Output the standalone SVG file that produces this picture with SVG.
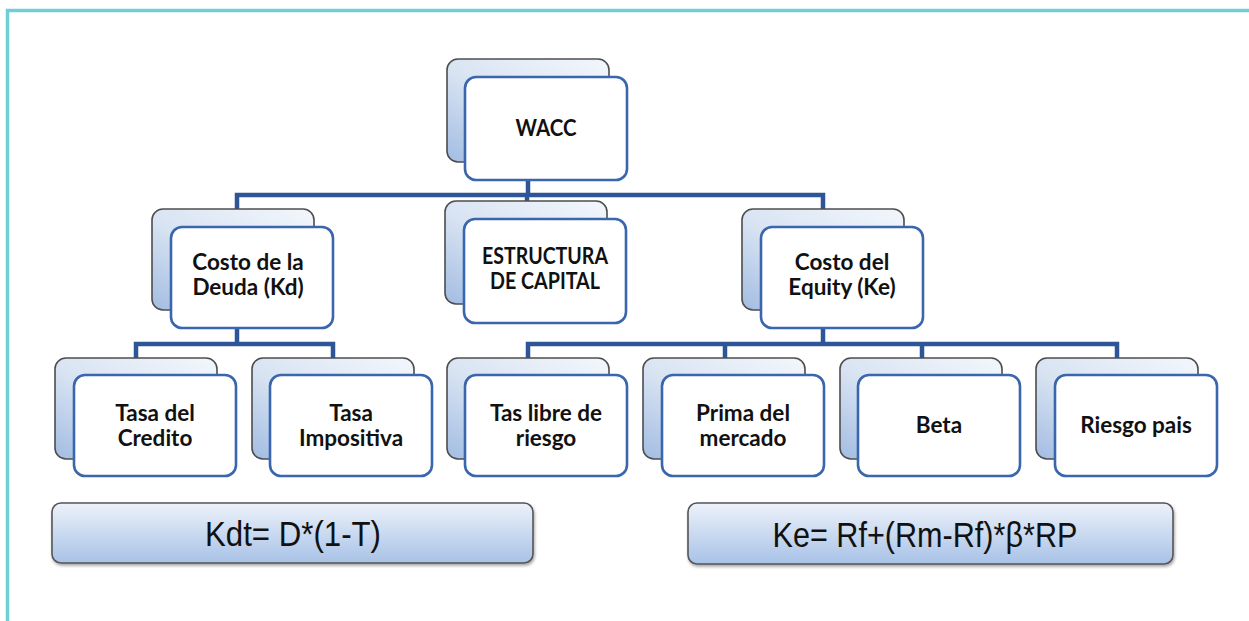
<svg xmlns="http://www.w3.org/2000/svg" width="1249" height="621" viewBox="0 0 1249 621">
  <defs>
    <linearGradient id="backGrad" x1="1" y1="0" x2="0" y2="1">
      <stop offset="0" stop-color="#f3f7fc"/>
      <stop offset="0.55" stop-color="#d8e3f2"/>
      <stop offset="1" stop-color="#a2bce2"/>
    </linearGradient>
    <linearGradient id="formGrad" x1="0" y1="0" x2="0" y2="1">
      <stop offset="0" stop-color="#edf2fa"/>
      <stop offset="1" stop-color="#a8c2e7"/>
    </linearGradient>
    <filter id="shadow" x="-5%" y="-10%" width="110%" height="130%">
      <feDropShadow dx="1" dy="2" stdDeviation="1.5" flood-color="#000" flood-opacity="0.35"/>
    </filter>
  </defs>
  <style>
    .back { fill: url(#backGrad); stroke: #4d4d4d; stroke-width: 1.6; }
    .front { fill: #ffffff; stroke: #3a66ae; stroke-width: 2.6; }
    .lbl { font-family: Lato, "Open Sans", "Liberation Sans", sans-serif; font-weight: bold; font-size: 22.5px; fill: #111111; text-anchor: middle; }
    .conn { fill: none; stroke: #2d5597; stroke-width: 4.5; stroke-linejoin: miter; stroke-linecap: butt; }
    .formbox { fill: url(#formGrad); stroke: #555555; stroke-width: 1.6; filter: url(#shadow); }
    .formula { font-family: "Liberation Sans", Arial, sans-serif; font-size: 35px; fill: #111111; text-anchor: middle; }
    .frame { fill: none; stroke: #6fcfd4; stroke-width: 3.5; }
  </style>

  <rect width="1249" height="621" fill="#ffffff"/>
  <path class="frame" d="M7.5,621 V10.5 H1249"/>

  <g id="connectors">
    <path class="conn" d="M528,180 V195 M237,209 V195 H823 V209 M527,195 V201"/>
    <path class="conn" d="M237,328 V344 M136,358 V344 H333 V358"/>
    <path class="conn" d="M823,328 V344 M528,358 V344 H1117 V358 M725,344 V358 M922,344 V358"/>
  </g>

  <g id="wacc">
    <rect class="back" x="447" y="59" width="162" height="103" rx="11"/>
    <rect class="front" x="465" y="77" width="162" height="103" rx="11"/>
    <text class="lbl" x="546" y="136" textLength="61" lengthAdjust="spacingAndGlyphs">WACC</text>
  </g>

  <g id="costo-deuda">
    <rect class="back" x="152" y="209" width="162" height="101" rx="11"/>
    <rect class="front" x="171" y="227" width="162" height="101" rx="11"/>
    <text class="lbl" x="248" y="270">Costo de la</text>
    <text class="lbl" x="248" y="295">Deuda (Kd)</text>
  </g>

  <g id="estructura">
    <rect class="back" x="445" y="201" width="162" height="103" rx="11"/>
    <rect class="front" x="464" y="219" width="162" height="104" rx="11"/>
    <text class="lbl" x="545" y="264" textLength="126" lengthAdjust="spacingAndGlyphs">ESTRUCTURA</text>
    <text class="lbl" x="545" y="289" textLength="110" lengthAdjust="spacingAndGlyphs">DE CAPITAL</text>
  </g>

  <g id="costo-equity">
    <rect class="back" x="742" y="209" width="162" height="101" rx="11"/>
    <rect class="front" x="761" y="227" width="162" height="101" rx="11"/>
    <text class="lbl" x="842" y="270">Costo del</text>
    <text class="lbl" x="842" y="295">Equity (Ke)</text>
  </g>

  <g id="tasa-credito">
    <rect class="back" x="55" y="358" width="162" height="101" rx="11"/>
    <rect class="front" x="74" y="375" width="162" height="101" rx="11"/>
    <text class="lbl" x="155" y="421">Tasa del</text>
    <text class="lbl" x="155" y="446">Credito</text>
  </g>

  <g id="tasa-impositiva">
    <rect class="back" x="252" y="358" width="162" height="101" rx="11"/>
    <rect class="front" x="270" y="375" width="162" height="101" rx="11"/>
    <text class="lbl" x="351" y="421">Tasa</text>
    <text class="lbl" x="351" y="446">Impositiva</text>
  </g>

  <g id="tasa-libre">
    <rect class="back" x="447" y="358" width="162" height="101" rx="11"/>
    <rect class="front" x="465" y="375" width="162" height="101" rx="11"/>
    <text class="lbl" x="546" y="421">Tas libre de</text>
    <text class="lbl" x="546" y="446">riesgo</text>
  </g>

  <g id="prima-mercado">
    <rect class="back" x="643" y="358" width="162" height="101" rx="11"/>
    <rect class="front" x="662" y="375" width="162" height="101" rx="11"/>
    <text class="lbl" x="743" y="421">Prima del</text>
    <text class="lbl" x="743" y="446">mercado</text>
  </g>

  <g id="beta">
    <rect class="back" x="840" y="358" width="162" height="101" rx="11"/>
    <rect class="front" x="858" y="375" width="162" height="101" rx="11"/>
    <text class="lbl" x="939" y="433">Beta</text>
  </g>

  <g id="riesgo-pais">
    <rect class="back" x="1036" y="358" width="162" height="101" rx="11"/>
    <rect class="front" x="1055" y="375" width="162" height="101" rx="11"/>
    <text class="lbl" x="1136" y="433">Riesgo pais</text>
  </g>

  <g id="formula-kd">
    <rect class="formbox" x="52" y="503" width="481" height="60" rx="9"/>
    <text class="formula" x="293" y="546" textLength="176" lengthAdjust="spacingAndGlyphs">Kdt= D*(1-T)</text>
  </g>

  <g id="formula-ke">
    <rect class="formbox" x="688" y="503" width="485" height="61" rx="9"/>
    <text class="formula" x="925" y="547" textLength="305" lengthAdjust="spacingAndGlyphs">Ke= Rf+(Rm-Rf)*β*RP</text>
  </g>
</svg>
